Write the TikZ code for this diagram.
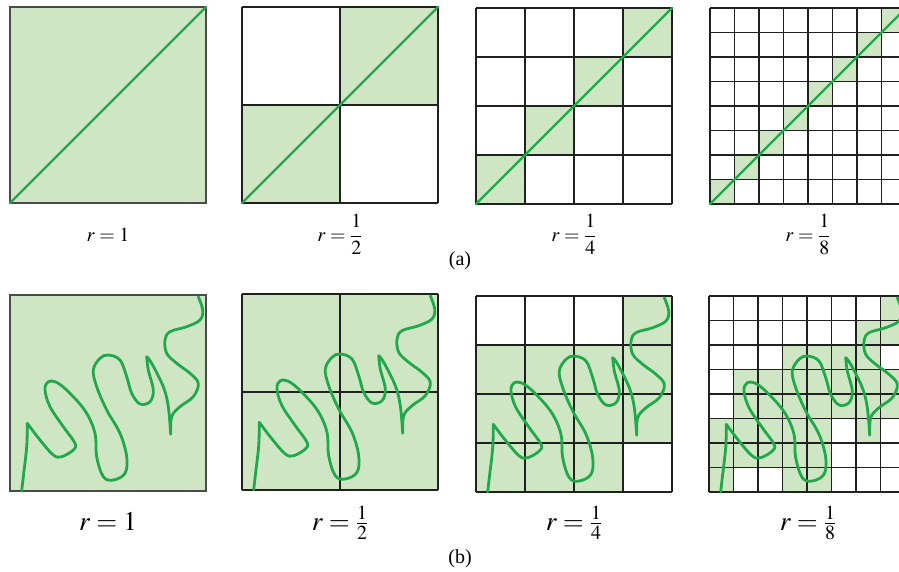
\documentclass[tikz,border=0pt]{standalone}
\usepackage{mathptmx}
\usepackage{fontspec}
\setmainfont{Liberation Serif}
\definecolor{fillg}{HTML}{CFE6C4}
\definecolor{lineg}{HTML}{21A84A}
\definecolor{gridc}{HTML}{202020}
\definecolor{borderc}{HTML}{4A4A4A}
\tikzset{
  cellfill/.style={fill=fillg},
  gridline/.style={draw=gridc, line width=1.7pt},
  outerline/.style={draw=borderc, line width=1.9pt},
  curveline/.style={draw=lineg, line width=2.8pt, line join=round, line cap=round},
  diagline/.style={draw=lineg, line width=2.4pt, line cap=round},
  lblA/.style={font=\fontsize{20}{23}\selectfont, anchor=base, inner sep=0pt},
  lblB/.style={font=\fontsize{27}{30}\selectfont, anchor=base, inner sep=0pt},
  capt/.style={font=\fontsize{20}{23}\selectfont, anchor=base, inner sep=0pt},
}
\newcommand\wigglecurve{%
  \draw[curveline] plot[smooth,tension=0.6] coordinates {(11.7,195.7) (13.3,181.7) (16.7,151.7) (17.3,128.3)}
   -- plot[smooth,tension=0.6] coordinates {(17.3,128.3) (30,145) (43.3,160) (51.7,161.7) (63.3,155) (65,148.3) (53.3,131.7) (40,111.7) (35,95) (38.3,86.7) (48.3,88.3) (63.3,101.7) (76.7,118.3) (85,138.3) (86.7,161.7) (93.3,181.7) (103.3,185) (115,178.3) (116.7,161.7) (110,138.3) (96.7,115) (86.7,91.7) (83.3,75) (90,63.3) (98.3,60) (110,65) (116.7,81.7) (121.7,98.3) (130,109) (140,106.7) (143.3,95) (138.3,75) (136.7,61.7)}
   -- plot[smooth,tension=0.6] coordinates {(136.7,61.7) (141.7,68.3) (153.3,91.7) (158.3,111.7) (160.7,139.3)}
   -- plot[smooth,tension=0.6] coordinates {(160.7,139.3) (161.7,121.7) (170,111.7) (183.3,101.7) (188.3,88.3) (180,78.3) (166.7,68.3) (156.7,58.3) (155,45) (160,36.7) (176.7,31.7) (190,25) (192.7,15) (188.3,1.7)};%
}
% #1 n, #2 list of green cells c/r
\newcommand\gridpanel[2]{%
  \pgfmathsetmacro\cs{196/#1}%
  \foreach \c/\r in {#2} \fill[cellfill] (\c*\cs,\r*\cs) rectangle ++(\cs,\cs);
  \foreach \i in {0,...,#1} {
    \draw[gridline] (\i*\cs,0) -- (\i*\cs,196);
    \draw[gridline] (0,\i*\cs) -- (196,\i*\cs);
  }%
}
\begin{document}
\begin{tikzpicture}[x=1pt,y=-1pt]
\useasboundingbox (0,0) rectangle (899,572);
\fill[white] (0,0) rectangle (899,572);
\clip (0,0) rectangle (899,572);

% ---------- row (a) ----------
\begin{scope}[shift={(10,7)}]
  \fill[cellfill] (0,0) rectangle (196,196);
  \draw[outerline] (0,0) rectangle (196,196);
  \draw[diagline] (0,196) -- (196,0);
\end{scope}
\begin{scope}[shift={(242,7)}]
  \gridpanel{2}{1/0,0/1}
  \draw[diagline] (0,196) -- (196,0);
\end{scope}
\begin{scope}[shift={(476,8)}]
  \gridpanel{4}{3/0,2/1,1/2,0/3}
  \draw[diagline] (0,196) -- (196,0);
\end{scope}
\begin{scope}[shift={(710,8)}]
  \gridpanel{8}{7/0,6/1,5/2,4/3,3/4,2/5,1/6,0/7}
  \draw[diagline] (0,196) -- (196,0);
\end{scope}

\node[lblA] (la1) at (108,241) {$r=1$};
\node[lblA] (la2) at (340,241) {$r=\displaystyle\frac{1}{2}$};
\node[lblA] (la3) at (574,241) {$r=\displaystyle\frac{1}{4}$};
\node[lblA] (la4) at (808,241) {$r=\displaystyle\frac{1}{8}$};
\node[capt] (capa) at (460,265) {(a)};

% ---------- row (b) ----------
\begin{scope}[shift={(10,295)}]
  \fill[cellfill] (0,0) rectangle (196,196);
  \draw[outerline] (0,0) rectangle (196,196);
  \wigglecurve
\end{scope}
\begin{scope}[shift={(242,294)}]
  \gridpanel{2}{0/0,1/0,0/1,1/1}
  \wigglecurve
\end{scope}
\begin{scope}[shift={(476,296)}]
  \gridpanel{4}{3/0,0/1,1/1,2/1,3/1,0/2,1/2,2/2,3/2,0/3,1/3,2/3}
  \wigglecurve
\end{scope}
\begin{scope}[shift={(709,296)}]
  \gridpanel{8}{7/0,6/1,7/1,3/2,4/2,5/2,6/2,1/3,2/3,3/3,4/3,5/3,6/3,7/3,1/4,2/4,3/4,4/4,5/4,6/4,7/4,0/5,1/5,2/5,3/5,4/5,6/5,0/6,1/6,2/6,3/6,4/6,0/7,3/7,4/7}
  \wigglecurve
\end{scope}

\node[lblB] (lb1) at (108,530) {$r=1$};
\node[lblB] (lb2) at (340,530) {$r=\frac{1}{2}$};
\node[lblB] (lb3) at (574,530) {$r=\frac{1}{4}$};
\node[lblB] (lb4) at (808,530) {$r=\frac{1}{8}$};
\node[capt] (capb) at (460,563) {(b)};
\end{tikzpicture}
\end{document}
